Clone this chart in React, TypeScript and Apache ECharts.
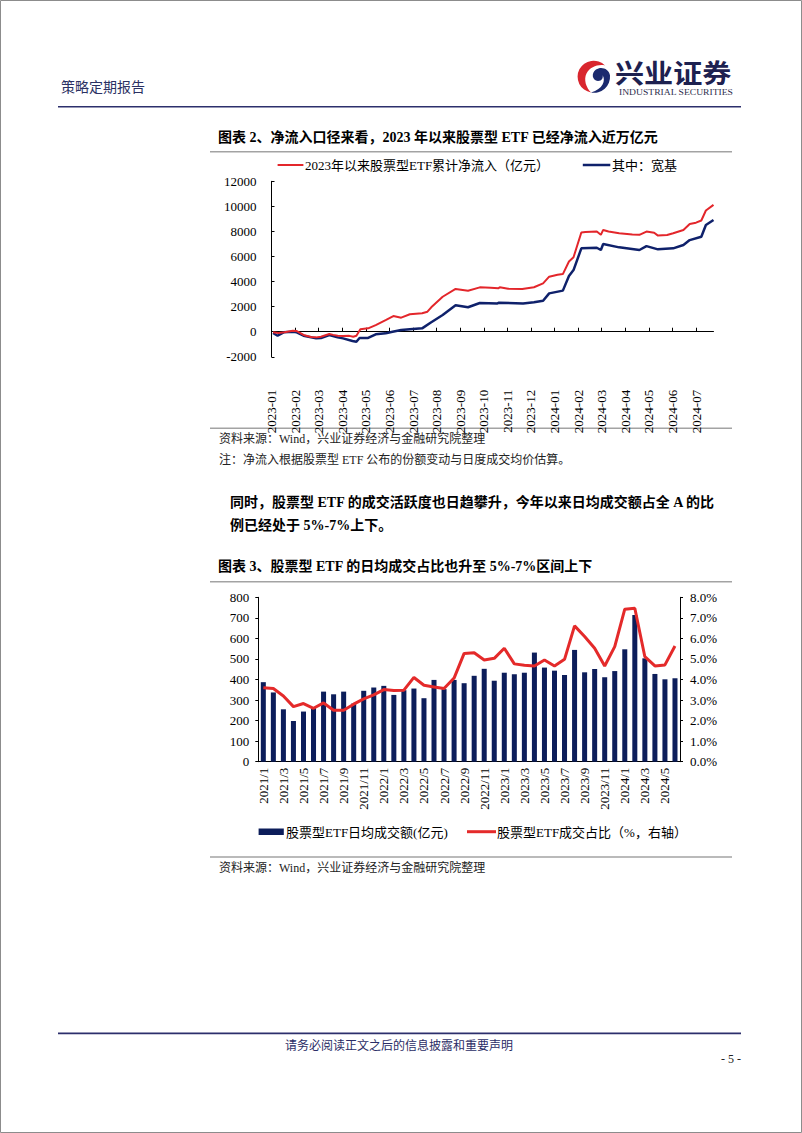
import React, { useEffect, useRef } from "react";
import * as echarts from "echarts";

// ---------- Chart 1 data: cumulative net inflow since 2023 (亿元) ----------
const totalDates = [
  "2023-01-03", "2023-01-10", "2023-01-18", "2023-01-29", "2023-02-03", "2023-02-11", "2023-02-20", "2023-02-26",
  "2023-03-04", "2023-03-15", "2023-03-20", "2023-03-26", "2023-04-02", "2023-04-10", "2023-04-15", "2023-04-19",
  "2023-04-24", "2023-05-04", "2023-05-14", "2023-05-27", "2023-06-06", "2023-06-16", "2023-06-27", "2023-07-13",
  "2023-07-20", "2023-07-25", "2023-08-09", "2023-08-26", "2023-09-11", "2023-09-26", "2023-10-10", "2023-10-20",
  "2023-10-22", "2023-11-02", "2023-11-20", "2023-12-05", "2023-12-17", "2023-12-25", "2024-01-05", "2024-01-12",
  "2024-01-20", "2024-01-26", "2024-02-05", "2024-02-10", "2024-02-24", "2024-02-29", "2024-03-03", "2024-03-10",
  "2024-03-24", "2024-04-10", "2024-04-19", "2024-04-28", "2024-05-08", "2024-05-13", "2024-05-25", "2024-06-02",
  "2024-06-15", "2024-06-23", "2024-07-01", "2024-07-08", "2024-07-14", "2024-07-24",
];
const totalValues = [
  -50, -100, -50, 80, 50, -260, -420, -450,
  -400, -180, -250, -320, -350, -330, -400, -320,
  190, 270, 530, 930, 1250, 1120, 1390, 1470,
  1600, 1950, 2790, 3410, 3270, 3540, 3500, 3460,
  3540, 3420, 3410, 3550, 3860, 4390, 4550, 4600,
  5600, 5940, 7910, 7950, 7990, 7730, 8120, 7990,
  7860, 7760, 7730, 7990, 7900, 7670, 7720, 7860,
  8120, 8600, 8700, 8870, 9670, 10120,
];
const broadDates = [
  "2023-01-03", "2023-01-09", "2023-01-17", "2023-01-29", "2023-02-03", "2023-02-11", "2023-02-26", "2023-03-04",
  "2023-03-15", "2023-03-26", "2023-04-02", "2023-04-14", "2023-04-19", "2023-04-23", "2023-05-04", "2023-05-14",
  "2023-05-27", "2023-06-05", "2023-06-16", "2023-06-27", "2023-07-13", "2023-07-24", "2023-08-09", "2023-08-26",
  "2023-09-11", "2023-09-26", "2023-10-19", "2023-10-21", "2023-11-21", "2023-12-05", "2023-12-17", "2023-12-25",
  "2024-01-12", "2024-01-20", "2024-01-26", "2024-02-05", "2024-02-24", "2024-02-29", "2024-03-03", "2024-03-24",
  "2024-04-19", "2024-04-28", "2024-05-13", "2024-06-02", "2024-06-15", "2024-06-23", "2024-07-08", "2024-07-14",
  "2024-07-24",
];
const broadValues = [
  -100, -320, -50, 0, -50, -320, -530, -500,
  -260, -450, -530, -740, -800, -500, -500, -210,
  -130, 0, 130, 190, 270, 720, 1330, 2110,
  1950, 2290, 2260, 2310, 2260, 2350, 2470, 3060,
  3280, 4440, 4920, 6650, 6700, 6520, 7000, 6730,
  6520, 6830, 6570, 6650, 6920, 7310, 7580, 8510,
  8910,
];
const flowTicks = [-2000, 0, 2000, 4000, 6000, 8000, 10000, 12000];

// ---------- Chart 2 data ----------
const months = [
  "2021/1", "2021/2", "2021/3", "2021/4", "2021/5", "2021/6", "2021/7", "2021/8", "2021/9", "2021/10", "2021/11", "2021/12",
  "2022/1", "2022/2", "2022/3", "2022/4", "2022/5", "2022/6", "2022/7", "2022/8", "2022/9", "2022/10", "2022/11", "2022/12",
  "2023/1", "2023/2", "2023/3", "2023/4", "2023/5", "2023/6", "2023/7", "2023/8", "2023/9", "2023/10", "2023/11", "2023/12",
  "2024/1", "2024/2", "2024/3", "2024/4", "2024/5", "2024/6",
];
const dailyTurnover = [
  387, 337, 255, 198, 244, 263, 341, 328, 341, 283, 345, 361,
  369, 325, 348, 356, 309, 398, 353, 398, 382, 418, 452, 394,
  433, 425, 433, 531, 458, 443, 422, 544, 435, 451, 411, 441,
  547, 714, 503, 427, 401, 406,
];
const turnoverShare = [
  3.6, 3.56, 3.2, 2.68, 2.83, 2.6, 2.86, 2.5, 2.5, 2.8, 3.06, 3.25,
  3.51, 3.46, 3.48, 4.1, 3.72, 3.64, 3.56, 4.07, 5.27, 5.3, 4.95, 5.03,
  5.52, 4.76, 4.69, 4.66, 4.95, 4.66, 4.98, 6.61, 6.09, 5.52, 4.66, 5.6,
  7.42, 7.47, 5.11, 4.66, 4.71, 5.63,
];

const SERIF = '"Liberation Serif", "Times New Roman", "Noto Sans CJK SC", serif';
const NAVY = "#2c2f6c";

function toMonthIndex(d: string): number {
  const [y, m, day] = d.split("-").map(Number);
  const dim = new Date(y, m, 0).getDate();
  return (y - 2023) * 12 + (m - 1) + (day - 1) / dim;
}
function monthLabel(v: number): string {
  const i = Math.round(v);
  const y = 2023 + Math.floor(i / 12);
  const m = (i % 12) + 1;
  return `${y}-${m < 10 ? "0" + m : m}`;
}

const RED_LOGO = "M28 6 A16 16 0 1 0 14 33 C 9 28 6.5 20 9.5 14 C 13 7.5 21 4.5 28 6 Z";
const BLUE_LOGO =
  "M14 33 A16 16 0 0 0 33 16 C 32 9 24 6.5 19 10 C 14 13.5 15 21 21 21.5 C 25 21.5 26.5 18 25.5 15.5 C 29 21 26 29.5 14 33 Z";

let registered = false;
function registerLogo() {
  if (registered) return;
  echarts.graphic.registerShape("logoRed", echarts.graphic.extendPath(RED_LOGO, {}) as any);
  echarts.graphic.registerShape("logoBlue", echarts.graphic.extendPath(BLUE_LOGO, {}) as any);
  registered = true;
}

function txt(text: string, x: number, y: number, opts: any = {}, extra: any = {}) {
  return {
    type: "text",
    x,
    y,
    silent: true,
    ...extra,
    style: {
      text,
      fontFamily: SERIF,
      fontSize: 12,
      fill: "#000",
      textVerticalAlign: "middle",
      textAlign: "left",
      ...opts,
    },
  };
}
function hline(x1: number, x2: number, y: number, stroke: string, lineWidth: number) {
  return { type: "line", silent: true, shape: { x1, y1: y, x2, y2: y }, style: { stroke, lineWidth } };
}

export default function App() {
  const ref = useRef<HTMLDivElement>(null);

  useEffect(() => {
    if (!ref.current) return;
    registerLogo();
    const chart = echarts.init(ref.current, undefined, { renderer: "svg" });

    const totalData = totalDates.map((d, i) => [toMonthIndex(d), totalValues[i]]);
    const broadData = broadDates.map((d, i) => [toMonthIndex(d), broadValues[i]]);
    const xMax = Math.max(toMonthIndex(totalDates[totalDates.length - 1]), toMonthIndex(broadDates[broadDates.length - 1]));
    const monthTicks: number[] = [];
    for (let i = 0; i <= Math.floor(xMax); i++) monthTicks.push(i);

    const axisText = { fontFamily: SERIF, fontSize: 13, color: "#000" };

    const option: any = {
      animation: false,
      backgroundColor: "#fff",
      grid: [
        { left: 271.5, top: 181.3, width: 442, height: 175.5 },
        { left: 258.3, top: 597.3, width: 421.7, height: 164.4 },
      ],
      xAxis: [
        {
          gridIndex: 0,
          type: "value",
          min: 0,
          max: xMax,
          interval: 1,
          axisLine: { onZero: true, lineStyle: { color: "#000", width: 1 } },
          axisTick: { show: true, inside: true, length: 4, customValues: monthTicks, lineStyle: { color: "#000" } },
          axisLabel: {
            ...axisText,
            customValues: monthTicks,
            rotate: 90,
            margin: 33,
            formatter: (v: number) => monthLabel(v),
          },
          splitLine: { show: false },
        },
        {
          gridIndex: 1,
          type: "category",
          data: months,
          axisLine: { lineStyle: { color: "#000", width: 1 } },
          axisTick: { show: false },
          axisLabel: { ...axisText, interval: 1, rotate: 90, margin: 6 },
        },
      ],
      yAxis: [
        {
          gridIndex: 0,
          type: "value",
          min: flowTicks[0],
          max: flowTicks[flowTicks.length - 1],
          interval: 2000,
          axisLine: { show: true, lineStyle: { color: "#000", width: 1 } },
          axisTick: { show: true, inside: true, length: 3, lineStyle: { color: "#000" } },
          axisLabel: { ...axisText, margin: 15, formatter: (v: number) => String(v) },
          splitLine: { show: false },
        },
        {
          gridIndex: 1,
          type: "value",
          position: "left",
          min: 0,
          max: 800,
          interval: 100,
          axisLine: { show: true, lineStyle: { color: "#000", width: 1 } },
          axisTick: { show: true, length: 3, lineStyle: { color: "#000" } },
          axisLabel: { ...axisText, margin: 9, formatter: (v: number) => String(v) },
          splitLine: { show: false },
        },
        {
          gridIndex: 1,
          type: "value",
          position: "right",
          min: 0,
          max: 8,
          interval: 1,
          axisLine: { show: true, lineStyle: { color: "#000", width: 1 } },
          axisTick: { show: true, length: 3, lineStyle: { color: "#000" } },
          axisLabel: { ...axisText, margin: 10, formatter: (v: number) => v.toFixed(1) + "%" },
          splitLine: { show: false },
        },
      ],
      series: [
        {
          name: "其中：宽基",
          type: "line",
          xAxisIndex: 0,
          yAxisIndex: 0,
          data: broadData,
          showSymbol: false,
          symbol: "none",
          lineStyle: { color: "#0f216b", width: 2.5 },
          itemStyle: { color: "#0f216b" },
        },
        {
          name: "2023年以来股票型ETF累计净流入（亿元）",
          type: "line",
          xAxisIndex: 0,
          yAxisIndex: 0,
          data: totalData,
          showSymbol: false,
          symbol: "none",
          lineStyle: { color: "#e3262b", width: 2 },
          itemStyle: { color: "#e3262b" },
        },
        {
          name: "股票型ETF日均成交额(亿元)",
          type: "bar",
          xAxisIndex: 1,
          yAxisIndex: 1,
          data: dailyTurnover,
          barWidth: "50%",
          itemStyle: { color: "#0c1d5a" },
        },
        {
          name: "股票型ETF成交占比（%，右轴）",
          type: "line",
          xAxisIndex: 1,
          yAxisIndex: 2,
          data: turnoverShare,
          symbol: "none",
          lineStyle: { color: "#e42a2a", width: 3 },
          itemStyle: { color: "#e42a2a" },
        },
      ],
      graphic: [
        // page border
        {
          type: "rect",
          silent: true,
          shape: { x: 0.5, y: 0.5, width: 801, height: 1132 },
          style: { fill: "none", stroke: "#8c8c8c", lineWidth: 1 },
        },
        // header
        txt("策略定期报告", 61, 87, { fontSize: 14, fill: "#2b3163" }),
        { type: "logoRed", x: 577, y: 59.5, scaleX: 1, scaleY: 1, silent: true, style: { fill: "#d9262e" } },
        { type: "logoBlue", x: 577, y: 59.5, scaleX: 1, scaleY: 1, silent: true, style: { fill: "#1b2a6e" } },
        txt("兴业证券", 615, 72, { fontSize: 26, fontWeight: "bold", fill: "#1d2150", fontFamily: '"Noto Sans CJK SC", sans-serif' }, { scaleX: 1.12 }),
        txt("INDUSTRIAL SECURITIES", 619, 92.5, { fontSize: 8, fill: "#2b2b4b" }, { scaleX: 1.2 }),
        hline(58, 741, 106.7, NAVY, 1.6),

        // chart 1 title & frame
        txt("图表 2、净流入口径来看，2023 年以来股票型 ETF 已经净流入近万亿元", 218, 137.5, { fontSize: 14, fontWeight: "bold" }),
        hline(210, 732, 151.7, "#a3a3a3", 1.5),
        hline(277.6, 303.4, 165, "#e3262b", 2),
        txt("2023年以来股票型ETF累计净流入（亿元）", 305, 165, { fontSize: 13 }),
        hline(582.8, 610.3, 165, "#0f216b", 2.5),
        txt("其中：宽基", 612, 165, { fontSize: 13 }),
        hline(210, 732, 428.3, "#a3a3a3", 1.5),
        txt("资料来源：Wind，兴业证券经济与金融研究院整理", 219, 438.5, { fontSize: 12, fill: "#222" }),
        txt("注：净流入根据股票型 ETF 公布的份额变动与日度成交均价估算。", 219, 460, { fontSize: 12, fill: "#222" }),

        // paragraph
        txt("同时，股票型 ETF 的成交活跃度也日趋攀升，今年以来日均成交额占全 A 的比", 230, 502, { fontSize: 14, fontWeight: "bold" }),
        txt("例已经处于 5%-7%上下。", 230, 525.5, { fontSize: 14, fontWeight: "bold" }),

        // chart 2 title & frame
        txt("图表 3、股票型 ETF 的日均成交占比也升至 5%-7%区间上下", 218, 566, { fontSize: 14, fontWeight: "bold" }),
        hline(210, 732, 581.7, "#a3a3a3", 1.5),
        {
          type: "rect",
          silent: true,
          shape: { x: 258.6, y: 828.5, width: 25.2, height: 6.5 },
          style: { fill: "#0c1d5a" },
        },
        txt("股票型ETF日均成交额(亿元)", 286, 832, { fontSize: 13 }),
        hline(467, 496, 831.7, "#e42a2a", 3),
        txt("股票型ETF成交占比（%，右轴）", 497, 832, { fontSize: 13 }),
        hline(210, 732, 857, "#a3a3a3", 1.5),
        txt("资料来源：Wind，兴业证券经济与金融研究院整理", 219, 868, { fontSize: 12, fill: "#222" }),

        // footer
        hline(58, 741, 1033.3, NAVY, 1.8),
        txt("请务必阅读正文之后的信息披露和重要声明", 399, 1044, {
          fontSize: 12,
          textAlign: "center",
          fill: "#2b2d66",
          fontFamily: '"Noto Sans CJK SC", sans-serif',
        }),
        txt("- 5 -", 741, 1059, { fontSize: 12, textAlign: "right", fill: "#222" }),
      ],
    };

    chart.setOption(option);
    return () => chart.dispose();
  }, []);

  return (
    <div
      ref={ref}
      style={{ position: "absolute", left: 0, top: 0, width: 802, height: 1133, background: "#fff" }}
    />
  );
}
